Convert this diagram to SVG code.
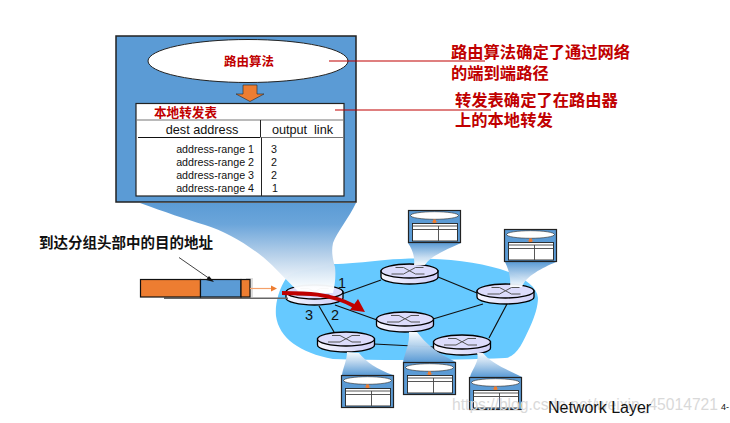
<svg xmlns="http://www.w3.org/2000/svg" width="730" height="423" viewBox="0 0 730 423">
<style>
.sans{font-family:"Liberation Sans",Arial,sans-serif;fill:#111}
.cjk{font-family:"Liberation Sans","Noto Sans CJK SC",sans-serif;font-weight:700}
.red{fill:#c00000}
.tb{font-size:10.7px}
.hd{font-size:12.700px}
.link{stroke:#111;stroke-width:1.200;fill:none}
.rt{fill:#dcdcfc;stroke:#000;stroke-width:1.300}
</style>
<defs>
<linearGradient id="big" x1="0" y1="203" x2="0" y2="288" gradientUnits="userSpaceOnUse">
<stop offset="0" stop-color="#5b9bd5"/><stop offset=".25" stop-color="#6ba5da"/><stop offset=".6" stop-color="#b4cfe9"/><stop offset="1" stop-color="#fff" stop-opacity=".96"/>
</linearGradient>
<linearGradient id="fade" x1="0" y1="0" x2="0" y2="1">
<stop offset="0" stop-color="#5b9bd5"/><stop offset="1" stop-color="#fff" stop-opacity=".95"/>
</linearGradient>
<linearGradient id="fadeUp" x1="0" y1="1" x2="0" y2="0">
<stop offset="0" stop-color="#5b9bd5"/><stop offset="1" stop-color="#fff" stop-opacity=".95"/>
</linearGradient>
<linearGradient id="rtg" x1="0" y1="0" x2="1" y2="0">
<stop offset="0" stop-color="#f6f6ff"/><stop offset="1" stop-color="#cfcff8"/>
</linearGradient>
<symbol id="router" overflow="visible">
<path d="M-28.500 0V6A28.500 7 0 0 0 28.500 6V0Z" fill="url(#rtg)" stroke="#000" stroke-width="1.300"/>
<ellipse rx="28.500" ry="7" class="rt"/>
<path d="M-14 -3.500H-6L6 3H15M-18 3H-6L6 -3.500H14" fill="none" stroke="#555" stroke-width="1"/>
</symbol>
<symbol id="mini" overflow="visible">
<rect x=".5" y=".5" width="52" height="32" fill="#5b9bd5" stroke="#222" stroke-width="1.200"/>
<ellipse cx="26.500" cy="5.500" rx="24" ry="3.800" fill="#fff" stroke="#222" stroke-width=".6"/>
<path d="M25 9.500H28V11.500H30L26.500 13.500L23 11.500H25Z" fill="#ed7d31"/>
<rect x="4.500" y="13.500" width="45" height="17.500" fill="#fff" stroke="#222" stroke-width=".9"/>
<path d="M4.500 16H49.500M4.500 19.500H49.500M30.500 16V31" stroke="#444" stroke-width=".9" fill="none"/>
</symbol>
</defs>
<rect width="730" height="423" fill="#fff"/>
<path id="cloud" d="M287 277C278 290 275 305 276 316C279 338 300 353 333 359C390 361 460 360 505 358C517 357 523 342 530 327C535 316 538 306 538 298C537 286 522 276 500 269C470 260 425 256 385 260C365 262 345 264 333 264C318 270 298 268 287 277Z" fill="#66c9ff"/>
<g id="connectors">
<path class="link" d="M342 294L381 280M335 305L377 320M319 306L334 332M374 344L433 347M438 277L477 293M433 319L483 304M507 304L489 338"/>
</g>
<g id="router-1"><use href="#router" x="314.500" y="292"/></g>
<g id="router-2"><use href="#router" x="409.500" y="271"/></g>
<g id="router-3"><use href="#router" x="505.500" y="291"/></g>
<g id="router-4"><use href="#router" x="405" y="319"/></g>
<g id="router-5"><use href="#router" x="346" y="339"/></g>
<g id="router-6"><use href="#router" x="462" y="342"/></g>
<g id="funnels">
<path d="M140 203C165 212 185 219 205 225C225 231 245 243 263 257C275 267 288 282 300 293L333 293C335 285 336 275 335 267C333 260 331 252 333 243C337 232 349 218 356 203Z" fill="url(#big)"/>
<path d="M408 243C413 250 415 258 414 265H425C430 256 448 249 461 243Z" fill="url(#fade)"/>
<path d="M505 262C509 270 511 279 510 287H522C526 276 542 268 556 262Z" fill="url(#fade)"/>
<path d="M347 352C347 360 343 368 342 375H393C378 370 365 361 359 353Z" fill="url(#fadeUp)"/>
<path d="M409 332C410 342 405 353 403 362H456C438 354 425 343 417 332Z" fill="url(#fadeUp)"/>
<path d="M477 353C480 361 472 369 470 377H522C505 369 490 362 483 353Z" fill="url(#fadeUp)"/>
</g>
<g id="main-panel">
<rect x="116" y="36" width="240" height="166" fill="#5b9bd5" stroke="#222" stroke-width="1.500"/>
<g id="algorithm"><ellipse cx="248" cy="61" rx="100" ry="21.500" fill="#fff" stroke="#222"/>
<text x="249" y="66" text-anchor="middle" class="cjk red" font-size="12.500">路由算法</text></g>
<path d="M243 85H257V94H264L250 101.500L236 94H243Z" fill="#ed7d31" stroke="#333" stroke-width=".7"/>
<g id="table">
<rect x="136" y="103.500" width="208" height="92.500" fill="#fff" stroke="#222" stroke-width="1.200"/>
<path d="M136 120H344" stroke="#777" stroke-width="1.200"/>
<path d="M138 137.500H260" stroke="#111"/><path d="M261 137.500H344" stroke="#777"/>
<path d="M260.500 120V137.500M261.500 137.500V196" stroke="#222"/>
<text x="154" y="116.500" class="cjk red" font-size="12.600">本地转发表</text>
<text x="202" y="134" text-anchor="middle" class="sans hd">dest address</text>
<text x="272" y="134" class="sans hd" textLength="61" xml:space="preserve">output  link</text>
<g class="sans tb" text-anchor="end">
<text x="254" y="153">address-range 1</text>
<text x="254" y="166">address-range 2</text>
<text x="254" y="179">address-range 3</text>
<text x="254" y="192">address-range 4</text>
</g>
<g class="sans tb">
<text x="271" y="153">3</text><text x="271" y="166">2</text><text x="271" y="179">2</text><text x="272" y="192">1</text>
</g>
</g>
</g>
<g id="mini-1"><use href="#mini" x="408" y="210"/></g>
<g id="mini-2"><use href="#mini" x="504" y="229"/></g>
<g id="mini-3"><use href="#mini" x="341" y="375"/></g>
<g id="mini-4"><use href="#mini" x="403" y="362"/></g>
<g id="mini-5"><use href="#mini" x="469" y="377"/></g>
<g id="callouts">
<path d="M329 61H485M335 110H491" stroke="#c00000" stroke-width="1.200" fill="none"/>
<g class="cjk red" font-size="16.300">
<text x="451" y="58">路由算法确定了通过网络</text>
<text x="451" y="79">的端到端路径</text>
<text x="455" y="106">转发表确定了在路由器</text>
<text x="455" y="126">上的本地转发</text>
</g>
</g>
<g id="packet">
<rect x="164" y="297.500" width="124" height="1.500" fill="#666"/>
<rect x="246" y="278" width="7" height="19" fill="#ddd"/>
<rect x="140.500" y="279.500" width="60" height="17.500" fill="#ed7d31" stroke="#111" stroke-width="1.200"/>
<rect x="200.500" y="279.500" width="40.500" height="17.500" fill="#5b9bd5" stroke="#111" stroke-width="1.200"/>
<rect x="241" y="279.500" width="9" height="17.500" fill="#ed7d31" stroke="#111" stroke-width="1.200"/>
<path d="M250 288.500H272" stroke="#f4a06a" stroke-width="1.200"/>
<path d="M277 288.500L271 285.500V291.500Z" fill="#ed7d31"/>
<path d="M179 257.500L210 279" stroke="#111" stroke-width=".8"/>
<path d="M214 282L206 280L209 276Z" fill="#111"/>
<text x="39" y="248" class="cjk" font-size="14.500" fill="#111">到达分组头部中的目的地址</text>
</g>
<g id="flow">
<path d="M282 293C305 293 330 293 354 306" stroke="#c00000" stroke-width="4" fill="none"/>
<path d="M365 312L350 310L358 299Z" fill="#c00000"/>
</g>
<g class="sans" font-size="14.500">
<text x="338" y="288">1</text><text x="305" y="320">3</text><text x="331" y="320">2</text>
</g>
<text x="452" y="410" class="sans" font-size="16" textLength="266" lengthAdjust="spacingAndGlyphs" style="fill:#d9d9d9">https://blog.csdn.net/weixin_45014721</text>
<text x="548" y="413" class="sans" font-size="16" fill="#111">Network Layer</text>
<text x="721" y="410" class="sans" font-size="9">4-</text>
</svg>
